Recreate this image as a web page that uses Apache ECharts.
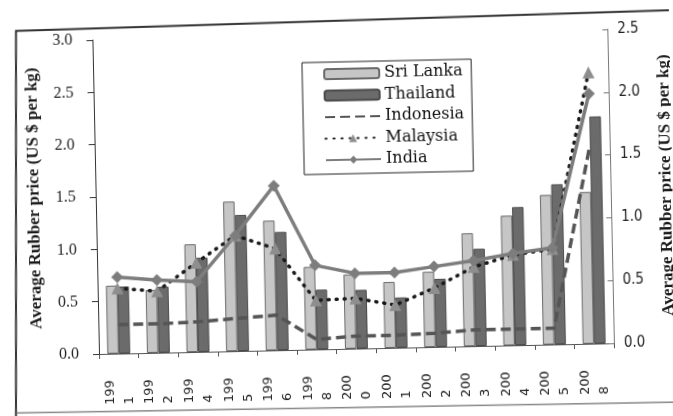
<!DOCTYPE html>
<html>
<head>
<meta charset="utf-8">
<script src="https://cdn.jsdelivr.net/npm/echarts@6/dist/echarts.min.js"></script>
<style>
html,body{margin:0;padding:0;background:#fff;overflow:hidden;}
#c{width:673px;height:416px;transform:rotate(-1.2deg);transform-origin:50% 50%;}
</style>
</head>
<body>
<div id="c"></div>
<script>
// ---- data ----
const categories = ['1991','1992','1994','1995','1996','1998','2000','2001','2002','2003','2004','2005','2008'];
const sriLanka  = [0.65, 0.60, 1.03, 1.43, 1.24, 0.79, 0.71, 0.63, 0.72, 1.08, 1.24, 1.43, 1.45];
const thailand  = [0.64, 0.63, 0.90, 1.30, 1.13, 0.57, 0.56, 0.48, 0.65, 0.93, 1.32, 1.53, 2.17];
const indonesia = [0.23, 0.23, 0.24, 0.26, 0.28, 0.08, 0.10, 0.10, 0.11, 0.13, 0.13, 0.13, 1.58];
const malaysia  = [0.52, 0.49, 0.71, 0.92, 0.81, 0.39, 0.40, 0.34, 0.47, 0.63, 0.72, 0.76, 2.16];
const india     = [0.61, 0.58, 0.56, 0.92, 1.31, 0.67, 0.60, 0.60, 0.64, 0.68, 0.73, 0.77, 1.99];
const seriesNames = ['Sri Lanka', 'Thailand', 'Indonesia', 'Malaysia', 'India'];
const axisTitle = 'Average Rubber price (US $ per kg)';
const leftAxisRange = [0, 3.0];
const rightAxisRange = [0, 2.5];
const tickStep = 0.5;

// ---- page tilt (the scanned chart is slightly rotated) ----
const TILT = 1.2 * Math.PI / 180, cs = Math.cos(TILT), sn = Math.sin(TILT);
function inv(x, y) { const dx = x - 336.5, dy = y - 208; return [336.5 + cs * dx - sn * dy, 208 + sn * dx + cs * dy]; }

const chart = echarts.init(document.getElementById('c'), null, {renderer: 'canvas'});
const titleStyle = {fontFamily: 'Liberation Serif', fontWeight: 'bold', fontSize: 17, color: '#1a1a1a'};

chart.setOption({
  animation: false,
  backgroundColor: '#fff',
  grid: {left: 96, right: 62, top: 35, bottom: 67, outerBoundsMode: 'none', containLabel: false},
  legend: {
    orient: 'vertical', left: 305, top: 62,
    data: [
      {name: seriesNames[0]},
      {name: seriesNames[1]},
      {name: seriesNames[2], itemStyle: {opacity: 0}},
      {name: seriesNames[3]},
      {name: seriesNames[4]}
    ],
    itemWidth: 55, itemHeight: 10, itemGap: 5.5,
    padding: [4, 8, 6, 21],
    borderColor: '#222', borderWidth: 1,
    textStyle: {fontFamily: 'DejaVu Serif', fontSize: 16, color: '#111', lineHeight: 16}
  },
  xAxis: {
    type: 'category', data: categories, boundaryGap: true,
    axisLine: {lineStyle: {color: '#555', width: 1}},
    axisTick: {show: true, length: 5, lineStyle: {color: '#555'}},
    axisLabel: {
      interval: 0, rotate: 90, align: 'left', verticalAlign: 'middle', margin: 51,
      fontFamily: 'DejaVu Sans', fontSize: 13, lineHeight: 19, color: '#222',
      formatter: v => v.slice(0, 3) + '\n' + v.slice(3)
    },
    splitLine: {show: false}
  },
  yAxis: [
    {
      type: 'value', min: leftAxisRange[0], max: leftAxisRange[1], interval: tickStep, position: 'left',
      axisLine: {show: true, lineStyle: {color: '#333', width: 1}},
      axisTick: {show: true, inside: false, length: 6, lineStyle: {color: '#333'}},
      axisLabel: {margin: 20, fontFamily: 'Liberation Serif', fontSize: 16, color: '#222', formatter: v => v.toFixed(1)},
      splitLine: {show: false},
      name: axisTitle, nameLocation: 'middle', nameRotate: 90, nameGap: 53, nameTextStyle: titleStyle
    },
    {
      type: 'value', min: rightAxisRange[0], max: rightAxisRange[1], interval: tickStep, position: 'right',
      axisLine: {show: true, lineStyle: {color: '#777', width: 1}},
      axisTick: {show: true, inside: true, length: 5, lineStyle: {color: '#777'}},
      axisLabel: {margin: 10, fontFamily: "'Liberation Sans Narrow','DejaVu Sans Condensed','Liberation Sans',sans-serif", fontSize: 15, color: '#222', formatter: v => v.toFixed(1)},
      splitLine: {show: false},
      name: axisTitle, nameLocation: 'middle', nameRotate: 90, nameGap: 47, nameTextStyle: titleStyle
    }
  ],
  series: [
    {name: seriesNames[0], type: 'bar', yAxisIndex: 0, data: sriLanka, barGap: '0%', barCategoryGap: '42%',
     itemStyle: {color: '#c6c6c6', borderColor: '#6a6a6a', borderWidth: 1}},
    {name: seriesNames[1], type: 'bar', yAxisIndex: 0, data: thailand,
     itemStyle: {color: '#6b6b6b', borderColor: '#4a4a4a', borderWidth: 1}},
    {name: seriesNames[2], type: 'line', yAxisIndex: 1, data: indonesia, symbol: 'none',
     itemStyle: {color: '#555'}, lineStyle: {color: '#555', width: 3.5, type: [10, 5]}},
    {name: seriesNames[3], type: 'line', yAxisIndex: 1, data: malaysia, symbol: 'triangle', symbolSize: 12,
     itemStyle: {color: '#8e8e8e'}, lineStyle: {color: '#1a1a1a', width: 3.5, type: [1, 7], cap: 'round'}},
    {name: seriesNames[4], type: 'line', yAxisIndex: 1, data: india, symbol: 'diamond', symbolSize: 12,
     itemStyle: {color: '#7d7d7d'}, lineStyle: {color: '#7d7d7d', width: 3.5}}
  ],
  graphic: [
    {type: 'polyline', silent: true, shape: {points: [inv(16, 420), inv(16, 31), inv(680, 10)]},
     style: {stroke: '#333', lineWidth: 2, fill: 'transparent'}},
    {type: 'line', silent: true, shape: (() => { const a = inv(17, 413), b = inv(680, 402); return {x1: a[0], y1: a[1], x2: b[0], y2: b[1]}; })(),
     style: {stroke: '#888', lineWidth: 1.5}}
  ]
});
</script>
</body>
</html>
